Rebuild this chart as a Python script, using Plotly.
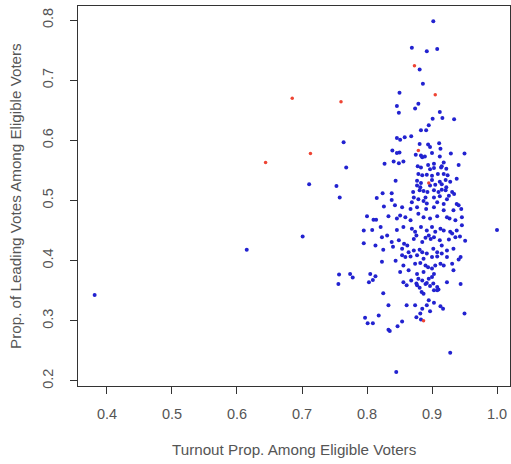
import plotly.graph_objects as go

# Blue points (turnout proportion, leading vote proportion)
blue_turnout = [
    0.381, 0.615, 0.711, 0.701, 0.764, 0.768, 0.753, 0.758, 0.757, 0.756, 0.774, 0.778, 1.000,
    0.902, 0.869, 0.892, 0.908, 0.881, 0.886, 0.928, 0.845, 0.950,
    0.850, 0.846, 0.849, 0.874, 0.879, 0.912, 0.901, 0.916, 0.934, 0.895, 0.891, 0.883,
    0.846, 0.851, 0.858, 0.868, 0.881, 0.894, 0.897, 0.911, 0.839, 0.850, 0.846, 0.875,
    0.900, 0.913, 0.929, 0.950, 0.883,
    0.885, 0.889, 0.912, 0.856, 0.849, 0.841, 0.827, 0.894, 0.903, 0.918, 0.915, 0.878,
    0.883, 0.941, 0.903, 0.897, 0.914, 0.922, 0.879, 0.885, 0.892, 0.900, 0.909, 0.918, 0.924,
    0.844, 0.877, 0.883, 0.900, 0.912, 0.921, 0.928, 0.938, 0.877, 0.882, 0.897, 0.905, 0.915, 0.922,
    0.824, 0.838, 0.871, 0.881, 0.887, 0.893, 0.903, 0.910, 0.915, 0.921, 0.931, 0.934,
    0.872, 0.879, 0.890, 0.903, 0.912, 0.923, 0.926, 0.815, 0.838,
    0.869, 0.887, 0.892, 0.908, 0.918, 0.938, 0.941,
    0.826, 0.843, 0.854, 0.867, 0.877, 0.891, 0.903, 0.918, 0.933, 0.945,
    0.800, 0.810, 0.814, 0.833, 0.846, 0.851, 0.859, 0.867, 0.879, 0.887, 0.897, 0.908, 0.923, 0.927, 0.936, 0.946,
    0.795, 0.808, 0.821, 0.831, 0.846, 0.856, 0.869, 0.874, 0.883, 0.892, 0.900, 0.905, 0.913, 0.918, 0.928, 0.938, 0.946,
    0.813, 0.823, 0.838, 0.849, 0.857, 0.862, 0.872, 0.876, 0.885, 0.890, 0.895, 0.898, 0.903, 0.912, 0.915,
    0.926, 0.931, 0.936, 0.943, 0.951, 0.795,
    0.825, 0.840, 0.854, 0.864, 0.872, 0.881, 0.885, 0.892, 0.902, 0.908, 0.915, 0.923, 0.933,
    0.854, 0.859, 0.867, 0.877, 0.887, 0.900, 0.908, 0.923, 0.944, 0.941,
    0.823, 0.844, 0.856, 0.874, 0.882, 0.890, 0.894, 0.900, 0.905, 0.913, 0.918, 0.931, 0.933,
    0.851, 0.864, 0.877, 0.887, 0.903, 0.805, 0.813,
    0.879, 0.885, 0.895, 0.900, 0.856, 0.868, 0.876, 0.892, 0.902, 0.908, 0.923, 0.944, 0.809, 0.803,
    0.861, 0.877, 0.881, 0.890, 0.897, 0.903, 0.910,
    0.825, 0.884, 0.887, 0.908, 0.895, 0.903, 0.833, 0.861, 0.874, 0.885, 0.892, 0.913, 0.917,
    0.882, 0.897, 0.818, 0.797, 0.801, 0.809, 0.876, 0.847, 0.854, 0.833, 0.835, 0.883,
]
blue_leading = [
    0.343, 0.418, 0.527, 0.440, 0.597, 0.555, 0.524, 0.505, 0.377, 0.361, 0.378, 0.372, 0.451,
    0.798, 0.754, 0.748, 0.752, 0.718, 0.694, 0.247, 0.215, 0.312,
    0.679, 0.657, 0.646, 0.653, 0.661, 0.647, 0.636, 0.637, 0.635, 0.625, 0.617, 0.617,
    0.604, 0.601, 0.605, 0.607, 0.594, 0.593, 0.589, 0.595, 0.583, 0.580, 0.579, 0.576,
    0.579, 0.586, 0.578, 0.578, 0.575,
    0.572, 0.573, 0.573, 0.565, 0.562, 0.565, 0.561, 0.559, 0.561, 0.563, 0.557, 0.557,
    0.555, 0.559, 0.554, 0.552, 0.555, 0.553, 0.544, 0.542, 0.543, 0.541, 0.544, 0.544, 0.542,
    0.533, 0.533, 0.529, 0.534, 0.531, 0.534, 0.531, 0.536, 0.525, 0.522, 0.525, 0.526, 0.527, 0.522,
    0.512, 0.512, 0.514, 0.517, 0.516, 0.514, 0.517, 0.514, 0.518, 0.517, 0.514, 0.511,
    0.505, 0.502, 0.505, 0.505, 0.507, 0.502, 0.508, 0.504, 0.501,
    0.497, 0.499, 0.495, 0.497, 0.494, 0.494, 0.492,
    0.490, 0.492, 0.489, 0.486, 0.489, 0.486, 0.489, 0.484, 0.484, 0.486,
    0.474, 0.468, 0.468, 0.474, 0.470, 0.475, 0.472, 0.467, 0.478, 0.472, 0.470, 0.474, 0.472, 0.470, 0.467, 0.472,
    0.450, 0.451, 0.456, 0.442, 0.451, 0.456, 0.453, 0.448, 0.456, 0.450, 0.456, 0.448, 0.453, 0.450, 0.448, 0.450, 0.459,
    0.425, 0.439, 0.431, 0.434, 0.428, 0.425, 0.436, 0.442, 0.431, 0.438, 0.442, 0.436, 0.439, 0.434, 0.425,
    0.435, 0.445, 0.439, 0.440, 0.433, 0.429,
    0.418, 0.423, 0.420, 0.414, 0.417, 0.418, 0.414, 0.412, 0.420, 0.414, 0.412, 0.417, 0.420,
    0.409, 0.406, 0.407, 0.409, 0.403, 0.406, 0.407, 0.406, 0.406, 0.402,
    0.398, 0.400, 0.392, 0.395, 0.396, 0.392, 0.389, 0.387, 0.392, 0.395, 0.392, 0.395, 0.384,
    0.381, 0.384, 0.378, 0.381, 0.378, 0.378, 0.374,
    0.370, 0.367, 0.370, 0.373, 0.364, 0.367, 0.362, 0.363, 0.362, 0.356, 0.364, 0.361, 0.368, 0.364,
    0.359, 0.359, 0.355, 0.361, 0.358, 0.351, 0.352,
    0.346, 0.348, 0.345, 0.351, 0.334, 0.330, 0.326, 0.326, 0.326, 0.320, 0.326, 0.324, 0.320,
    0.312, 0.316, 0.309, 0.305, 0.296, 0.296, 0.306, 0.291, 0.299, 0.285, 0.283, 0.302,
]

# Red points
red_turnout = [0.644, 0.685, 0.713, 0.760, 0.873, 0.905, 0.879, 0.895, 0.887]
red_leading = [0.563, 0.670, 0.578, 0.664, 0.724, 0.676, 0.583, 0.529, 0.300]

x_ticks = [0.4, 0.5, 0.6, 0.7, 0.8, 0.9, 1.0]
x_tick_labels = ["0.4", "0.5", "0.6", "0.7", "0.8", "0.9", "1.0"]
y_ticks = [0.2, 0.3, 0.4, 0.5, 0.6, 0.7, 0.8]
y_tick_labels = ["0.2", "0.3", "0.4", "0.5", "0.6", "0.7", "0.8"]

fig = go.Figure()
fig.add_trace(go.Scatter(
    x=blue_turnout, y=blue_leading, mode="markers",
    marker=dict(color="#2222d0", size=4, line=dict(width=0)),
    showlegend=False, hoverinfo="x+y",
))
fig.add_trace(go.Scatter(
    x=red_turnout, y=red_leading, mode="markers",
    marker=dict(color="#ee4433", size=3.5, line=dict(width=0)),
    showlegend=False, hoverinfo="x+y",
))

font_main = dict(family="Liberation Sans, Arial, sans-serif", size=15.2, color="#555555")
font_tick = dict(family="Liberation Sans, Arial, sans-serif", size=14.5, color="#555555")
axis_common = dict(
    showgrid=False, zeroline=False, showline=True, mirror=True,
    linecolor="#333333", linewidth=1.3, automargin=False,
    ticks="outside", ticklen=7, tickwidth=1.2, tickcolor="#333333",
    tickfont=font_tick, ticklabeloverflow="allow",
)

fig.update_layout(
    width=511, height=464,
    margin=dict(l=78, r=1, t=6, b=78),
    paper_bgcolor="white", plot_bgcolor="white",
    xaxis=dict(range=[0.3554, 1.02], tickvals=x_ticks, ticktext=x_tick_labels,
               ticklabelstandoff=7, **axis_common),
    yaxis=dict(range=[0.1916, 0.8234], tickvals=y_ticks, ticktext=y_tick_labels,
               tickangle=-90, ticklabelstandoff=11, **axis_common),
    annotations=[
        dict(text="Turnout Prop. Among Eligible Voters", xref="paper", yref="paper",
             x=0.502, y=-0.168, xanchor="center", yanchor="middle",
             showarrow=False, font=font_main),
        dict(text="Prop. of Leading Votes Among Eligible Voters", xref="paper", yref="paper",
             x=-0.146, y=0.5, xanchor="center", yanchor="middle", textangle=-90,
             showarrow=False, font=font_main),
    ],
)

fig.write_html(
    "out.html",
    config={"displayModeBar": False},
    post_script="document.body.style.margin='0';document.body.style.padding='0';",
)
